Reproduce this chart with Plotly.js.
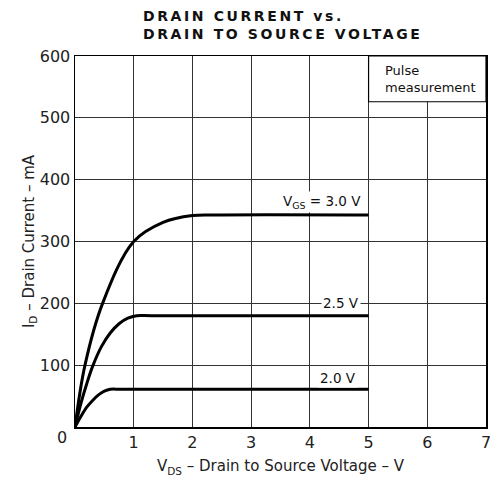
<!DOCTYPE html>
<html><head><meta charset="utf-8">
<script src="https://cdn.plot.ly/plotly-3.0.1.min.js"></script>
<style>
html,body{margin:0;padding:0;background:#fff}
#chart{width:490px;height:483px}
.gtitle{letter-spacing:2.6px}
</style></head>
<body><div id="chart"></div>
<script>
// V_DS (V) and I_D (mA)
const vds30 = [0, 0.17, 0.47, 1.0, 1.5, 2.0, 2.4, 5];
const id30  = [0, 100, 200, 300, 331, 342, 343, 343];
const vds25 = [0, 0.1, 0.2, 0.3, 0.45, 0.6, 0.75, 0.9, 1.05, 1.3, 5];
const id25  = [0, 38, 70, 98, 130, 152, 167, 176, 180, 180, 180];
const vds20 = [0, 0.1, 0.2, 0.3, 0.4, 0.5, 0.6, 0.8, 5];
const id20  = [0, 17, 32, 43, 52, 58, 61, 61, 61];
const seriesLabels = ['V<sub>GS</sub> = 3.0 V', '2.5 V', '2.0 V'];
const xTickVals = [1, 2, 3, 4, 5, 6, 7];
const yTickVals = [100, 200, 300, 400, 500, 600];

const FONT = 'DejaVu Sans, sans-serif';
const lineStyle = {color: '#000', width: 3, shape: 'spline', smoothing: 1};

const traces = [
  {x: vds30, y: id30, mode: 'lines', line: lineStyle, hoverinfo: 'skip'},
  {x: vds25, y: id25, mode: 'lines', line: lineStyle, hoverinfo: 'skip'},
  {x: vds20, y: id20, mode: 'lines', line: lineStyle, hoverinfo: 'skip'}
];

const ann = (text, x, y, xanchor, size, bg) => ({
  text, x, y, xref: 'x', yref: 'y', xanchor, yanchor: 'middle', showarrow: false,
  font: {family: FONT, size, color: '#111'}, bgcolor: bg || 'rgba(0,0,0,0)', borderpad: 1
});

const layout = {
  width: 490, height: 483,
  margin: {l: 75, r: 4, t: 56, b: 56},
  paper_bgcolor: '#fff', plot_bgcolor: '#fff',
  showlegend: false,
  title: {
    text: 'DRAIN CURRENT vs.<br>DRAIN TO SOURCE VOLTAGE',
    x: 143 / 490, xref: 'container', xanchor: 'left',
    y: 1 - 21 / 483, yref: 'container', yanchor: 'top',
    font: {family: FONT, size: 14, color: '#111', weight: 'bold'}
  },
  xaxis: {
    range: [0, 7], tickvals: xTickVals, ticks: '', showline: true, mirror: true,
    linecolor: '#000', linewidth: 1.5, showgrid: true, gridcolor: '#333', gridwidth: 1,
    zeroline: false, fixedrange: true, ticklabeloverflow: 'allow',
    tickfont: {family: FONT, size: 16, color: '#222'},
    title: {text: 'V<sub>DS</sub> – Drain to Source Voltage – V', standoff: 10,
            font: {family: FONT, size: 15, color: '#222'}}
  },
  yaxis: {
    range: [0, 600], tickvals: yTickVals, ticks: '', showline: true, mirror: true,
    linecolor: '#000', linewidth: 1.5, showgrid: true, gridcolor: '#333', gridwidth: 1,
    zeroline: false, fixedrange: true, ticklabeloverflow: 'allow',
    tickfont: {family: FONT, size: 16, color: '#222'},
    title: {text: 'I<sub>D</sub> – Drain Current – mA', standoff: 1,
            font: {family: FONT, size: 15, color: '#222'}}
  },
  shapes: [
    {type: 'rect', xref: 'x', yref: 'y', x0: 5, x1: 7, y0: 526, y1: 600,
     fillcolor: '#fff', line: {color: '#000', width: 1.2}, layer: 'above'}
  ],
  annotations: [
    ann(seriesLabels[0], 4.9, 364, 'right', 13.5, '#fff'),
    ann(seriesLabels[1], 4.87, 200, 'right', 13.5, '#fff'),
    ann(seriesLabels[2], 4.82, 80, 'right', 13.5, '#fff'),
    {text: 'Pulse<br>measurement', x: 5.25, y: 563, xref: 'x', yref: 'y',
     xanchor: 'left', yanchor: 'middle', align: 'left', showarrow: false,
     font: {family: FONT, size: 13, color: '#111'}},
    {text: '0', x: 0, y: 0, xref: 'paper', yref: 'y', xanchor: 'right', yanchor: 'middle',
     xshift: -6, yshift: -10, showarrow: false,
     font: {family: FONT, size: 16, color: '#222'}}
  ]
};

Plotly.newPlot('chart', traces, layout, {staticPlot: true, displayModeBar: false});
</script>
</body></html>
